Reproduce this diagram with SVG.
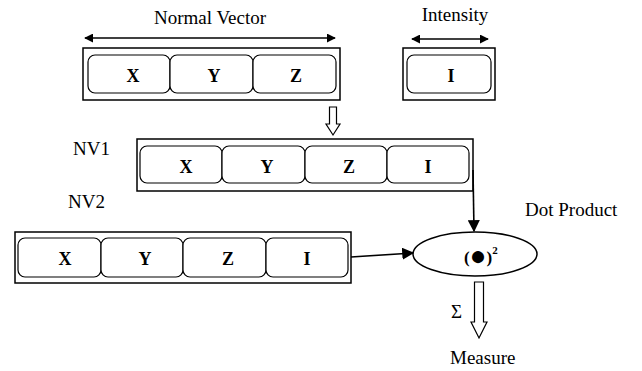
<svg xmlns="http://www.w3.org/2000/svg" width="642" height="371" viewBox="0 0 642 371">
<style>
.outer{fill:#fff;stroke:#000;stroke-width:1.5}
.cell{fill:#fff;stroke:#000;stroke-width:1.2}
.lt{font-family:"Liberation Serif","Times New Roman","DejaVu Serif",serif;font-size:18px;font-weight:bold;text-anchor:middle}
.lab{font-family:"Liberation Serif","Times New Roman","DejaVu Serif",serif;font-size:19px}
.con{fill:none;stroke:#000;stroke-width:1.6}
.hollow{fill:#fff;stroke:#000;stroke-width:1.2}
</style>
<defs>
<marker id="ah" viewBox="0 0 10 10" refX="9" refY="5" markerWidth="9" markerHeight="9" markerUnits="userSpaceOnUse" orient="auto-start-reverse">
<path d="M0,0 L10,5 L0,10 z" fill="#000"/>
</marker>
<marker id="ah2" viewBox="0 0 10 10" refX="9" refY="5" markerWidth="12" markerHeight="12" markerUnits="userSpaceOnUse" orient="auto">
<path d="M0,0 L10,5 L0,10 z" fill="#000"/>
</marker>
</defs>
<rect width="642" height="371" fill="#fff"/>

<g id="normal-vector">
<text class="lab" x="210" y="24" text-anchor="middle">Normal Vector</text>
<line class="con" x1="85" y1="38" x2="335" y2="38" marker-start="url(#ah)" marker-end="url(#ah)"/>
<rect class="outer" x="83" y="48" width="257" height="52"/>
<rect class="cell" x="88" y="55" width="82" height="38" rx="7"/>
<rect class="cell" x="170" y="55" width="83" height="38" rx="7"/>
<rect class="cell" x="253" y="55" width="83" height="38" rx="7"/>
<text class="lt" x="133" y="82">X</text>
<text class="lt" x="214" y="82">Y</text>
<text class="lt" x="296" y="82">Z</text>
</g>

<g id="intensity">
<text class="lab" x="455" y="21" text-anchor="middle">Intensity</text>
<line class="con" x1="412" y1="39" x2="488" y2="39" marker-start="url(#ah)" marker-end="url(#ah)"/>
<rect class="outer" x="403" y="48" width="92" height="52"/>
<rect class="cell" x="407" y="55" width="84" height="38" rx="7"/>
<text class="lt" x="451" y="82">I</text>
</g>

<g id="nv1">
<text class="lab" x="73" y="155">NV1</text>
<rect class="outer" x="137" y="139" width="336" height="52"/>
<rect class="cell" x="140" y="146" width="82" height="37" rx="7"/>
<rect class="cell" x="222" y="146" width="83" height="37" rx="7"/>
<rect class="cell" x="305" y="146" width="82" height="37" rx="7"/>
<rect class="cell" x="387" y="146" width="82" height="37" rx="7"/>
<text class="lt" x="186" y="173">X</text>
<text class="lt" x="267" y="173">Y</text>
<text class="lt" x="349" y="173">Z</text>
<text class="lt" x="428" y="173">I</text>
</g>

<g id="nv2">
<text class="lab" x="68" y="208">NV2</text>
<rect class="outer" x="15" y="232" width="336" height="51"/>
<rect class="cell" x="18" y="238" width="83" height="39" rx="7"/>
<rect class="cell" x="101" y="238" width="82" height="39" rx="7"/>
<rect class="cell" x="183" y="238" width="83" height="39" rx="7"/>
<rect class="cell" x="266" y="238" width="82" height="39" rx="7"/>
<text class="lt" x="65" y="265">X</text>
<text class="lt" x="145" y="265">Y</text>
<text class="lt" x="228" y="265">Z</text>
<text class="lt" x="307" y="265">I</text>
</g>

<g id="dot-product">
<text class="lab" x="525" y="216">Dot Product</text>
<ellipse cx="475" cy="254" rx="62" ry="22" fill="#fff" stroke="#000" stroke-width="1.5"/>
<text font-family="Liberation Serif, Times New Roman, DejaVu Serif, serif" font-size="17" font-weight="bold" x="464" y="263">(<tspan font-size="28" dy="2">●</tspan><tspan dy="-2">)</tspan><tspan font-size="11" dy="-9">2</tspan></text>
</g>

<g id="measure">
<text class="lab" x="450" y="364">Measure</text>
<text class="lab" x="451" y="318">Σ</text>
</g>

<g id="connectors">
<polygon class="hollow" points="329.5,107 336.5,107 336.5,124 340,124 333,135 326,124 329.5,124"/>
<polyline class="con" points="473,170 474,231" marker-end="url(#ah2)"/>
<line class="con" x1="351" y1="257" x2="413" y2="253" marker-end="url(#ah2)"/>
<polygon class="hollow" points="474.5,282 483.5,282 483.5,322 487,322 479,338 471,322 474.5,322"/>
</g>
</svg>
